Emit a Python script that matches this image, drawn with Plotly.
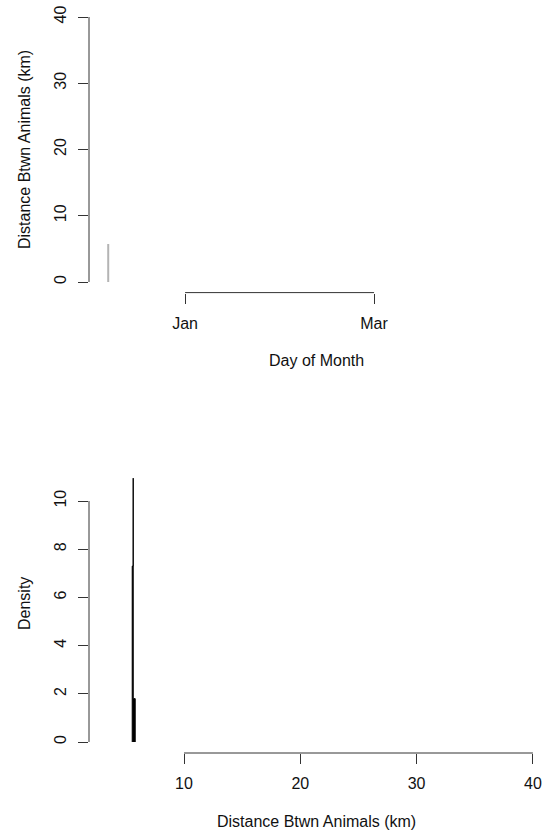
import plotly.graph_objects as go

# ---------------- data ----------------
# top panel: distance between animals by date (type "h" segments)
obs_dates = ["2010-12-08"]
obs_dist = [5.74]
top_y_ticks = [0, 10, 20, 30, 40]
top_x_tickvals = ["2011-01-01", "2011-03-01"]
top_x_ticktext = ["Jan", "Mar"]
top_x_range = ["2010-12-02", "2011-04-22 18:00"]
top_y_range = [-1.6, 41.6]

# bottom panel: density of distances
dens_x = [5.546, 5.546, 5.628, 5.632, 5.636, 5.804, 5.804]
dens_y = [0.0, 7.3, 7.3, 10.95, 1.8, 1.8, 0.0]
bot_x_ticks = [10, 20, 30, 40]
bot_y_ticks = [0, 2, 4, 6, 8, 10]
bot_x_range = [1.83, 40.87]
bot_y_range = [-0.456, 11.87]

FONT = "Liberation Sans, Arial, sans-serif"
AX = "#333333"
TXT = "#111111"
W, H = 543, 832

fig = go.Figure()

# gray vertical segments (type = "h")
seg_x, seg_y = [], []
for d, v in zip(obs_dates, obs_dist):
    seg_x += [d, d, None]
    seg_y += [0, v, None]
fig.add_trace(go.Scatter(x=seg_x, y=seg_y, mode="lines",
                         line=dict(color="#b4b4b4", width=2),
                         xaxis="x", yaxis="y", showlegend=False, hoverinfo="skip"))

fig.add_trace(go.Scatter(x=dens_x, y=dens_y, mode="lines", fill="tozeroy",
                         fillcolor="black",
                         line=dict(color="black", width=1),
                         xaxis="x2", yaxis="y2", showlegend=False, hoverinfo="skip"))

xdom = [89 / W, 1.0]
top_dom = [1 - 292.6 / H, 1 - 6.4 / H]
bot_dom = [1 - 753 / H, 1 - 456 / H]

common = dict(showgrid=False, zeroline=False, showline=False, ticks="outside",
              ticklen=10, tickwidth=1, tickcolor=AX,
              tickfont=dict(family=FONT, size=16, color=TXT), automargin=False)

fig.update_layout(
    width=W, height=H, margin=dict(l=0, r=0, t=0, b=0),
    paper_bgcolor="white", plot_bgcolor="white",
    xaxis=dict(domain=xdom, anchor="y", type="date", range=top_x_range,
               tickmode="array", tickvals=top_x_tickvals, ticktext=top_x_ticktext,
               ticklabelstandoff=6, **common),
    yaxis=dict(domain=top_dom, anchor="x", range=top_y_range,
               tickmode="array", tickvals=top_y_ticks, tickangle=-90,
               ticklabelstandoff=6, **common),
    xaxis2=dict(domain=xdom, anchor="y2", range=bot_x_range,
                tickmode="array", tickvals=bot_x_ticks,
                ticklabelstandoff=6, **common),
    yaxis2=dict(domain=bot_dom, anchor="x2", range=bot_y_range,
                tickmode="array", tickvals=bot_y_ticks, tickangle=-90,
                ticklabelstandoff=6, **common),
)

# axis lines spanning first to last tick (R style)
shapes = [
    dict(type="line", xref="x domain", yref="y", x0=0, x1=0,
         y0=top_y_ticks[0], y1=top_y_ticks[-1], line=dict(color=AX, width=1)),
    dict(type="line", xref="x", yref="y domain", x0=top_x_tickvals[0], x1=top_x_tickvals[-1],
         y0=0, y1=0, line=dict(color=AX, width=1)),
    dict(type="line", xref="x2 domain", yref="y2", x0=0, x1=0,
         y0=bot_y_ticks[0], y1=bot_y_ticks[-1], line=dict(color=AX, width=1)),
    dict(type="line", xref="x2", yref="y2 domain", x0=bot_x_ticks[0], x1=bot_x_ticks[-1],
         y0=0, y1=0, line=dict(color=AX, width=1)),
]
fig.update_layout(shapes=shapes)

tf = dict(family=FONT, size=16, color=TXT)
annos = [
    dict(text="Distance Btwn Animals (km)", xref="paper", yref="paper",
         x=24 / W, y=1 - 150 / H, textangle=-90, showarrow=False, font=tf,
         xanchor="center", yanchor="middle"),
    dict(text="Day of Month", xref="paper", yref="paper",
         x=316 / W, y=1 - 360 / H, showarrow=False, font=tf,
         xanchor="center", yanchor="middle"),
    dict(text="Density", xref="paper", yref="paper",
         x=24 / W, y=1 - 604 / H, textangle=-90, showarrow=False, font=tf,
         xanchor="center", yanchor="middle"),
    dict(text="Distance Btwn Animals (km)", xref="paper", yref="paper",
         x=316 / W, y=1 - 821 / H, showarrow=False, font=tf,
         xanchor="center", yanchor="middle"),
]
fig.update_layout(annotations=annos)

fig.write_html("out.html", config={"displayModeBar": False},
               post_script="document.body.style.margin='0';document.body.style.overflow='hidden';")
